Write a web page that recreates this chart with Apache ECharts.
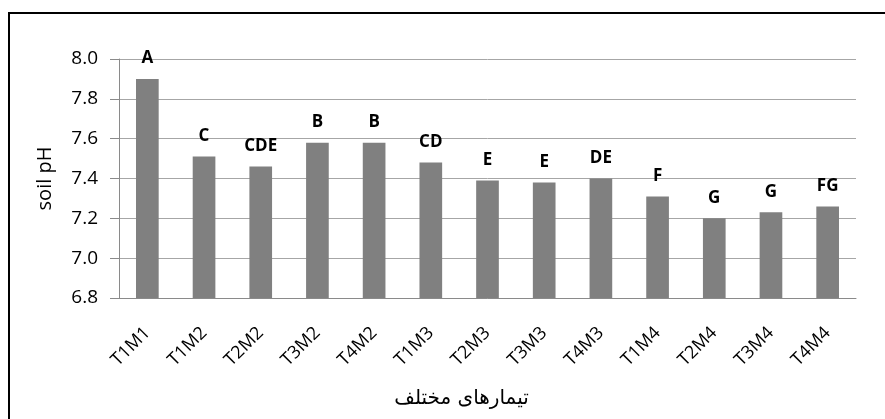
<!DOCTYPE html>
<html>
<head>
<meta charset="utf-8">
<script src="https://cdn.jsdelivr.net/npm/echarts@6/dist/echarts.min.js"></script>
<style>
  html, body { margin: 0; padding: 0; background: #fff; }
  #chart { width: 885px; height: 419px; }
</style>
</head>
<body>
<div id="chart"></div>
<script>
// treatments and mean soil pH
const treatments = ['T1M1', 'T1M2', 'T2M2', 'T3M2', 'T4M2', 'T1M3', 'T2M3', 'T3M3', 'T4M3', 'T1M4', 'T2M4', 'T3M4', 'T4M4']
const soilPH = [7.90, 7.51, 7.46, 7.58, 7.58, 7.48, 7.39, 7.38, 7.40, 7.31, 7.20, 7.23, 7.26]
const letters = ['A', 'C', 'CDE', 'B', 'B', 'CD', 'E', 'E', 'DE', 'F', 'G', 'G', 'FG']

const chart = echarts.init(document.getElementById('chart'))
const font = 'Open Sans'

const option = {
  animation: false,
  backgroundColor: '#fff',
  grid: {
    left: 119,
    right: 29,
    top: 59,
    bottom: 121
  },
  graphic: [{
    // outer frame, only top and left edges visible
    type: 'rect',
    shape: { x: 9, y: 13, width: 1000, height: 600 },
    style: { fill: 'none', stroke: '#000', lineWidth: 2 }
  }],
  xAxis: {
    type: 'category',
    data: treatments,
    name: 'تیمارهای مختلف',
    nameLocation: 'middle',
    nameGap: 91,
    nameTextStyle: {
      fontFamily: 'DejaVu Sans',
      fontSize: 20,
      color: '#000',
      padding: [0, 52, 0, 0]
    },
    axisLine: { lineStyle: { color: '#8a8a8a', width: 1 } },
    axisTick: { length: 7, lineStyle: { color: '#8a8a8a' } },
    axisLabel: {
      rotate: 45,
      margin: 32,
      fontFamily: font,
      fontSize: 18,
      color: '#000'
    }
  },
  yAxis: {
    type: 'value',
    min: 6.8,
    max: 8.0,
    interval: 0.2,
    name: 'soil pH',
    nameLocation: 'middle',
    nameGap: 64,
    nameTextStyle: {
      fontFamily: font,
      fontSize: 20,
      color: '#000'
    },
    axisLine: { show: true, lineStyle: { color: '#8a8a8a', width: 1 } },
    axisTick: { show: true, length: 9, lineStyle: { color: '#8a8a8a' } },
    axisLabel: {
      margin: 21,
      fontFamily: font,
      fontSize: 19,
      color: '#000',
      formatter: v => v.toFixed(1)
    },
    splitLine: { lineStyle: { color: '#a6a6a6', width: 1 } }
  },
  series: [{
    type: 'bar',
    data: soilPH,
    barWidth: '40%',
    itemStyle: { color: '#808080' },
    label: {
      show: true,
      position: 'top',
      distance: 12,
      fontFamily: font,
      fontWeight: 'bold',
      fontSize: 17,
      color: '#000',
      formatter: p => letters[p.dataIndex]
    }
  }]
}

chart.setOption(option)
</script>
</body>
</html>
